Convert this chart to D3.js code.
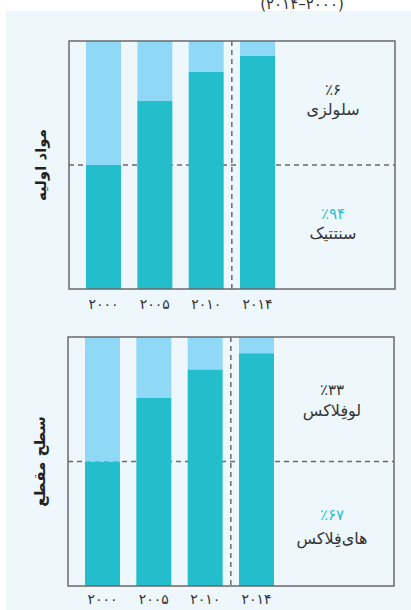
<!DOCTYPE html>
<html>
<head>
<meta charset="utf-8">
<script src="https://cdn.jsdelivr.net/npm/d3@7"></script>
<style>
  body { margin: 0; background: #fff; }
  svg { display: block; font-family: "DejaVu Sans", sans-serif; }
</style>
</head>
<body>
<svg id="chart"></svg>
<script>
// data (share in percent)
let years = ['2000', '2005', '2010', '2014'];
let yearLabels = ['۲۰۰۰', '۲۰۰۵', '۲۰۱۰', '۲۰۱۴'];

let synthetic = [50, 76, 87.5, 94];
let cellulosic = [50, 24, 12.5, 6];

let highFlax = [50, 75.5, 87, 93.5];
let lowFlax = [50, 24.5, 13, 6.5];

let panelTitles = ['مواد اولیه', 'سطح مقطع'];
let topLabels = [['٪۶', 'سلولزی'], ['٪۳۳', 'لوفِلاکس']];
let bottomLabels = [['٪۹۴', 'سنتتیک'], ['٪۶۷', 'های‌فِلاکس']];
let title = '(۲۰۱۴–۲۰۰۰)';

let width = 411;
let height = 610;
let darkColor = '#23bdcc';
let lightColor = '#8fd8f6';
let lineColor = '#6a6a6a';

let svg = d3.select('#chart')
    .attr('width', width)
    .attr('height', height);

svg.append('rect')
    .attr('x', 6)
    .attr('y', 11)
    .attr('width', width - 6)
    .attr('height', height - 11)
    .attr('fill', '#eef7fc');

svg.append('text')
    .attr('x', 302)
    .attr('y', 9)
    .attr('text-anchor', 'middle')
    .attr('font-size', 15)
    .attr('fill', '#333')
    .text(title);

let panels = [
    { left: 69, top: 41, h: 248, low: synthetic, up: cellulosic, tick: 20, lab: [54, 74, 178, 198] },
    { left: 68, top: 337, h: 249, low: highFlax, up: lowFlax, tick: 18, lab: [58, 79, 183, 207] }
];

let innerW = 326;

function drawPanel(p, idx) {
    let g = svg.append('g')
        .attr('transform', 'translate(' + p.left + ',' + p.top + ')');

    let xScale = d3.scaleBand()
        .domain(years)
        .range([17, 206])
        .paddingInner(0.318)
        .paddingOuter(0);

    let yScale = d3.scaleLinear()
        .domain([0, 100])
        .range([p.h, 0]);

    let rows = years.map((y, i) => ({ year: y, low: p.low[i], up: p.up[i] }));
    let series = d3.stack().keys(['low', 'up'])(rows);

    // dashed 50% line under the bars
    g.append('line')
        .attr('x1', 0)
        .attr('x2', innerW)
        .attr('y1', yScale(50))
        .attr('y2', yScale(50))
        .attr('stroke', lineColor)
        .attr('stroke-width', 1.5)
        .attr('stroke-dasharray', '5,4');

    g.selectAll('g.layer')
        .data(series)
        .enter()
        .append('g')
        .attr('class', 'layer')
        .attr('fill', (d) => d.key == 'low' ? darkColor : lightColor)
        .selectAll('rect')
        .data((d) => d)
        .enter()
        .append('rect')
        .attr('x', (d) => xScale(d.data.year))
        .attr('width', xScale.bandwidth())
        .attr('y', (d) => yScale(d[1]))
        .attr('height', (d) => yScale(d[0]) - yScale(d[1]));

    // separator before the last year
    let sepX = xScale('2014') - (xScale.step() - xScale.bandwidth()) / 2;
    g.append('line')
        .attr('x1', sepX)
        .attr('x2', sepX)
        .attr('y1', 0)
        .attr('y2', p.h)
        .attr('stroke', lineColor)
        .attr('stroke-width', 1.5)
        .attr('stroke-dasharray', '5,4');

    g.append('rect')
        .attr('x', 0)
        .attr('y', 0)
        .attr('width', innerW)
        .attr('height', p.h)
        .attr('fill', 'none')
        .attr('stroke', lineColor)
        .attr('stroke-width', 1.5);

    let xAxis = d3.axisBottom(xScale)
        .tickSize(0)
        .tickFormat((d, i) => yearLabels[i]);

    let ax = g.append('g')
        .attr('transform', 'translate(0,' + p.h + ')')
        .call(xAxis);
    ax.select('.domain').remove();
    ax.selectAll('text')
        .attr('y', p.tick)
        .attr('dy', 0)
        .attr('font-size', 14)
        .attr('font-family', '"DejaVu Sans", sans-serif')
        .attr('fill', '#333');

    g.append('text')
        .attr('transform', 'translate(' + (-23) + ',' + (p.h / 2) + ') rotate(-90)')
        .attr('text-anchor', 'middle')
        .attr('font-size', 15)
        .attr('font-weight', 'bold')
        .attr('fill', '#222')
        .text(panelTitles[idx]);

    let cx = 264;
    g.append('text')
        .attr('x', cx).attr('y', p.lab[0])
        .attr('text-anchor', 'middle')
        .attr('font-size', 15)
        .attr('fill', '#333')
        .text(topLabels[idx][0]);
    g.append('text')
        .attr('x', cx).attr('y', p.lab[1])
        .attr('text-anchor', 'middle')
        .attr('font-size', 16)
        .attr('fill', '#333')
        .text(topLabels[idx][1]);
    g.append('text')
        .attr('x', cx).attr('y', p.lab[2])
        .attr('text-anchor', 'middle')
        .attr('font-size', 15)
        .attr('fill', '#2bbfd0')
        .text(bottomLabels[idx][0]);
    g.append('text')
        .attr('x', cx).attr('y', p.lab[3])
        .attr('text-anchor', 'middle')
        .attr('font-size', 16)
        .attr('fill', '#333')
        .text(bottomLabels[idx][1]);
}

panels.forEach(drawPanel);
</script>
</body>
</html>
